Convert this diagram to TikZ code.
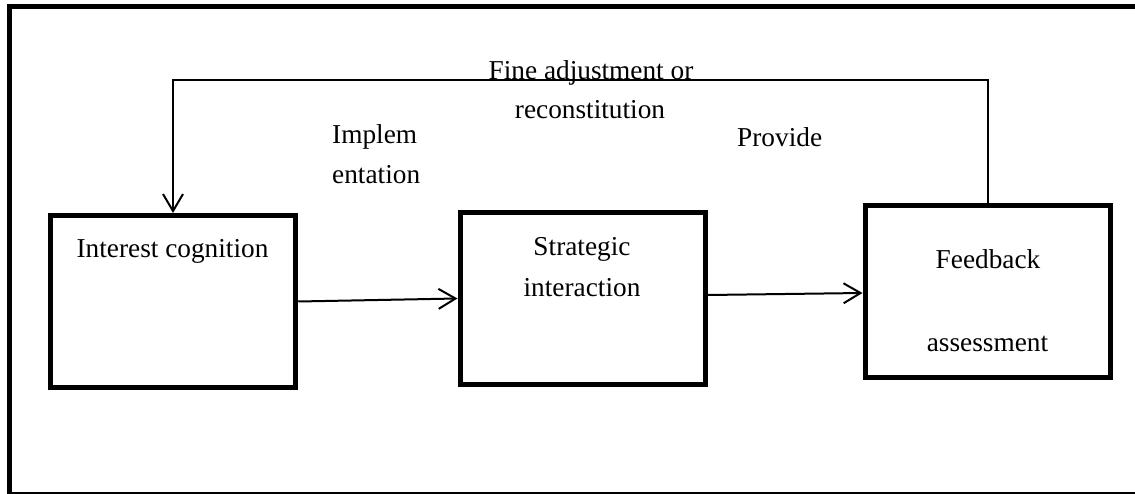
\documentclass[tikz,border=0pt]{standalone}
\usepackage{fontspec}
\setmainfont{Liberation Serif}
\usetikzlibrary{arrows.meta}
\begin{document}
\begin{tikzpicture}[x=1pt,y=-1pt,
  box/.style={draw,line width=5pt,minimum width=245.5pt,minimum height=172pt,inner sep=0pt},
  conn/.style={line width=2pt,-{Straight Barb[length=17pt,width=20pt,line width=2pt]}},
  lbl/.style={inner sep=0pt,font=\fontsize{27.3pt}{32pt}\selectfont}]
\clip (0,0) rectangle (1135,494);
\fill[white] (0,0) rectangle (1135,494);
\draw[line width=5pt] (9,6.5) rectangle (1142,494);
% boxes
\node[box] (b1) at (173,301.5) {};
\node[box] (b2) at (582.75,298.5) {};
\node[box] (b3) at (987.75,291.5) {};
% texts in boxes
\node[lbl,anchor=base] (t1) at (172.5,258) {Interest cognition};
\node[lbl,anchor=base] (t2a) at (582,256) {Strategic};
\node[lbl,anchor=base] (t2b) at (582,297) {interaction};
\node[lbl,anchor=base] (t3a) at (988,269) {Feedback};
\node[lbl,anchor=base] (t3b) at (987.5,352) {assessment};
% free labels
\node[lbl,anchor=base] (l1a) at (591,80) {Fine adjustment or};
\node[lbl,anchor=base] (l1b) at (590,119) {reconstitution};
\node[lbl,anchor=base west] (l2a) at (332,144) {Implem};
\node[lbl,anchor=base west] (l2b) at (332,184) {entation};
\node[lbl,anchor=base west] (l3) at (737,147) {Provide};
% connectors
\coordinate (top) at (580,80);
\draw[conn] (b1.east) -- ([yshift=0pt]b2.west);
\draw[conn] ([yshift=3.5pt]b2.east) -- ([yshift=-1.5pt]b3.west);
\draw[conn] (b3.north) |- (top) -| (b1.north);
\end{tikzpicture}
\end{document}
